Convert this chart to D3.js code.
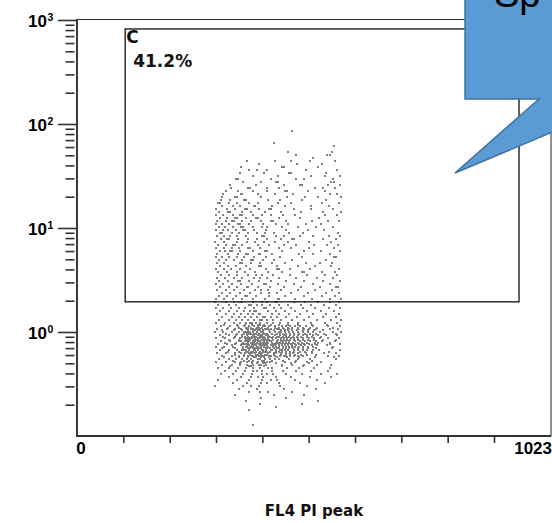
<!DOCTYPE html>
<html><head><meta charset="utf-8">
<script src="https://cdn.jsdelivr.net/npm/d3@7"></script>
<style>html,body{margin:0;padding:0;background:#fff;overflow:hidden}svg{display:block}</style>
</head><body><svg id="chart" width="552" height="523"></svg>
<script>
// ---- data ----
const xDomain = [0, 1023];
const yDomain = [0.1, 1000];
const xTickValues = [100, 200, 300, 400, 500, 600, 700, 800, 900];
const xEndLabels = ["0", "1023"];
const yMajorExponents = [0, 1, 2, 3];
const yMinorMultipliers = [2, 3, 4, 5, 6, 7, 8, 9];
const gateX = [104, 954];
const gateY = [1.95, 820];
const gateName = "C";
const gatePercent = "41.2%";
const axisTitle = "FL4 PI peak";
const calloutText = "Sp";
// events: [y value, [FL4 channel readings]] rows
const eventRows = [
[85.6,[465]],[65.7,[425]],[61.4,[555]],[53.8,[455,551]],[50.3,[473,540,546]],[47.1,[509]],
[44.1,[366,428,503,557,461]],[41.2,[392,474,529]],[38.6,[354,442,447,520]],
[36.1,[371,411,495,561,388]],[33.8,[351,458,462,538,404]],[31.6,[379,433,506,567,536]],
[29.6,[343,347,473,490,419,552]],[27.7,[359,430,434,549,554,398]],
[25.9,[386,481,486,541,568,331,447]],[24.2,[333,369,373,437,514,530,411,556]],
[22.7,[322,410,449,454,499,536,380,347]],[21.2,[316,353,357,391,466,545,562,427]],
[19.9,[341,345,398,453,521,570,312,492]],[18.6,[310,360,364,412,486,538,331,438]],
[17.4,[304,308,346,372,433,529,566,391,462,327]],[16.3,[313,351,381,385,448,505,543,421,336]],
[15.2,[300,340,362,366,414,418,468,553,323,392,505]],[14.2,[307,326,330,356,406,484,569,375,441,531]],
[13.3,[301,315,352,356,379,445,536,399,470,337,561,419]],[12.5,[309,342,346,387,391,437,522,323,364,482]],
[11.7,[303,334,338,376,418,422,507,566,356,451,321,398,541]],[10.9,[299,327,347,351,402,456,527,372,313,430,494]],
[10.2,[306,354,358,380,442,515,552,320,336,410,476,400]],[9.57,[300,325,359,363,408,498,534,343,382,450,315]],
[8.95,[308,312,349,388,426,487,563,334,370,457,405]],[8.38,[317,345,399,403,447,509,543,302,365,429,567,481,330]],
[7.84,[324,328,370,411,465,469,530,348,389,311,558,440]],[7.33,[298,346,366,404,455,549,317,384,427,500]],
[6.86,[305,337,341,391,414,472,539,356,322,446,512,564]],[6.42,[318,349,370,374,435,500,555,301,395,461,335]],
[6.01,[309,330,334,379,405,409,489,568,352,443,526,320]],[5.62,[303,347,364,392,396,479,546,325,421,510,370]],
[5.26,[313,329,360,383,438,554,558,299,407,345,485]],[4.92,[306,339,375,379,426,537,356,322,465,401]],
[4.61,[317,352,356,394,449,524,302,375,420,495,551]],[4.31,[308,343,365,393,397,476,548,326,432,513]],
[4.04,[300,332,374,431,435,503,566,352,407,460,318]],[3.78,[323,345,385,412,486,490,557,305,362,442,529]],
[3.53,[311,346,369,400,424,459,536,329,386,497,562]],[3.31,[302,338,357,381,410,473,518,320,437,553,395]],
[3.09,[307,348,352,393,419,452,532,326,372,490,568]],[2.89,[300,334,377,403,407,468,547,316,355,434,509]],
[2.71,[327,345,366,370,416,483,560,564,309,391,446,525]],[2.53,[303,339,360,384,413,477,551,321,441,514,398]],
[2.37,[312,352,374,398,431,499,566,331,461,538,415]],[2.22,[306,343,363,367,414,489,557,324,387,448,529]],
[2.08,[301,336,356,379,433,437,508,570,318,405,471,546]],
[1.94,[298,338,352,356,379,411,427,431,468,521,547,566,321,400,493]],
[1.82,[305,344,371,375,399,436,455,506,534,559,327,417,483,389]],
[1.70,[300,333,349,362,404,408,440,488,543,568,316,382,462,514,425]],
[1.59,[309,346,373,383,387,412,448,497,527,554,329,360,429,470]],
[1.49,[302,339,368,392,396,420,457,509,565,322,354,380,437,481,538]],
[1.39,[313,350,376,401,405,432,474,532,558,334,363,388,451,501,418]],
[1.30,[306,344,370,382,395,399,423,463,519,570,327,357,441,489,549,410]],
[1.22,[300,338,364,374,378,396,409,438,478,535,561,319,352,386,422,456,505]],
[1.18,[318,362,377,390,394,419,455,507,345,436,478,540,404]],
[1.14,[310,347,371,381,402,406,427,460,510,567,331,360,391,414,443,482,541,452,471,495]],
[1.10,[326,364,376,388,392,413,444,487,552,349,400,427,463,519,370,436,455,478,503]],
[1.07,[303,341,366,376,380,396,418,431,465,516,563,323,355,386,406,447,489,547,410,437,458,476,501]],
[1.035,[312,356,369,380,384,402,426,456,499,339,391,414,440,475,530,395,448,464,487,512]],
[1.00,[298,334,361,370,374,388,397,401,416,441,476,524,569,316,349,379,428,457,498,553,365,436,449,467,487,509]],
[0.967,[322,361,372,376,392,401,405,421,445,479,534,346,382,411,432,460,503,559,387,366,439,452,469,491,516]],
[0.936,[308,344,367,379,391,399,408,412,427,452,487,537,327,357,383,439,468,510,561,395,446,460,477,497,521]],
[0.905,[315,356,368,378,382,396,404,413,417,432,458,497,340,387,422,444,475,526,363,400,437,451,466,484,508]],
[0.876,[301,338,362,370,374,384,391,402,413,421,441,469,512,566,320,352,377,405,430,454,488,541,394,366,447,461,478,500,525]],
[0.847,[328,364,374,383,387,399,407,411,424,446,477,531,350,391,415,434,460,499,560,369,403,441,453,469,488,512]],
[0.819,[311,331,349,353,366,379,383,391,403,409,416,431,440,458,482,503,556,362,385,394,419,372,445,529,450,470,491,515]],
[0.792,[319,359,370,379,383,396,404,408,420,429,451,486,546,343,388,412,439,466,513,375,400,434,445,458,476,497,521]],
[0.767,[304,341,356,369,381,384,393,405,411,425,443,455,489,545,568,324,378,396,402,429,360,364,470,514,437,449,462,480,500]],
[0.742,[334,367,377,381,394,402,406,418,427,449,483,539,354,386,410,437,464,508,372,398,422,443,456,473,491,519]],
[0.717,[299,336,359,367,373,391,397,409,422,430,450,463,499,552,318,376,380,388,412,364,444,479,403,437,457,470,488,510]],
[0.694,[313,358,370,380,384,398,407,411,426,450,487,551,340,389,416,437,466,515,374,393,431,444,458,476,498]],
[0.671,[309,345,356,365,384,390,402,408,421,429,449,478,522,567,329,381,399,418,360,371,438,497,443,456,469,487,509]],
[0.649,[326,365,376,380,396,406,410,429,460,508,350,386,417,443,481,543,370,401,436,451,469,493]],
[0.628,[302,340,363,371,378,392,399,413,430,440,466,507,560,322,375,396,425,353,385,452,534,459,476,495]],
[0.607,[341,374,386,390,411,425,460,516,360,398,441,484,405,450,471,497]],
[0.588,[314,349,360,377,393,401,418,428,452,488,541,334,380,414,369,439,468,565,446,460,478]],
[0.569,[318,368,383,387,414,432,479,554,349,398,453,513,404]],
[0.550,[306,344,367,376,395,405,428,458,503,558,327,390,435,357,416,478]],
[0.532,[337,380,399,403,444,507,361,420,472,371]],
[0.515,[300,340,367,378,403,417,449,470,526,321,409,355,390,496]],
[0.498,[352,377,402,406,461,500,429,388]],
[0.482,[312,352,366,393,408,442,463,519,334,398,379,489,549]],
[0.466,[330,371,404,442,488,375]],
[0.450,[305,348,379,395,412,453,480,546,328,420,364,512]],
[0.422,[320,362,380,399,420,444,472,505,541,343,388]],
[0.395,[311,358,378,400,424,452,486,527,562,337,411]],
[0.369,[329,376,401,429,462,503,548,353,390]],
[0.346,[304,345,372,399,431,470,519,419]],
[0.323,[337,366,397,435,481,536,410]],
[0.303,[298,359,392,438,497,375]],
[0.283,[349,388,446,516]],
[0.265,[371,412,463,394]],
[0.248,[340,425,489]],
[0.232,[397,451]],
[0.217,[364,520]],
[0.203,[396,485]],
[0.190,[429]],
[0.178,[372]],
[0.128,[380]]
];

// ---- drawing ----
const svg = d3.select("#chart");
const L = 77, R = 551, T = 20, B = 436;
const x = d3.scaleLinear().domain(xDomain).range([L, R]);
const y = d3.scaleLog().domain(yDomain).range([B, T]);
const ink = "#333";
const numFont = "'Liberation Sans', Arial, sans-serif";
const boldFont = "'DejaVu Sans', Verdana, sans-serif";

// events
const events = eventRows.flatMap(([v, chs]) => chs.map(c => [c, v]));
svg.append("g").attr("shape-rendering", "crispEdges")
  .selectAll("rect").data(events).join("rect")
  .attr("x", d => Math.round(x(d[0])) - 1)
  .attr("y", d => Math.round(y(d[1])) - 1)
  .attr("width", 2).attr("height", 2)
  .attr("fill", "#7f7f7f");

// frame
svg.append("rect").attr("x", L).attr("y", T - 0.5).attr("width", R - L).attr("height", B - T + 0.5)
  .attr("fill", "none").attr("stroke", ink).attr("stroke-width", 1.1);
svg.append("line").attr("x1", L).attr("x2", L).attr("y1", T - 1).attr("y2", B + 1)
  .attr("stroke", ink).attr("stroke-width", 1.8);
svg.append("line").attr("x1", L - 1).attr("x2", R).attr("y1", B).attr("y2", B)
  .attr("stroke", ink).attr("stroke-width", 1.8);

// y axis major ticks
const majorVals = yMajorExponents.map(e => Math.pow(10, e));
const yMajor = svg.append("g").attr("transform", `translate(${L},0)`)
  .call(d3.axisLeft(y).tickValues(majorVals).tickSize(19).tickFormat(""));
yMajor.select(".domain").remove();
yMajor.selectAll("line").attr("stroke", ink).attr("stroke-width", 1.6);

// y axis minor ticks
const minorVals = [];
[-1, 0, 1, 2].forEach(e => yMinorMultipliers.forEach(m => minorVals.push(m * Math.pow(10, e))));
const yMinor = svg.append("g").attr("transform", `translate(${L - 2.5},0)`)
  .call(d3.axisLeft(y).tickValues(minorVals).tickSize(9).tickFormat(""));
yMinor.select(".domain").remove();
yMinor.selectAll("line").attr("stroke", ink).attr("stroke-width", 1.6);

// y labels 10^e
const yl = svg.append("g").attr("font-family", numFont).attr("font-weight", "bold").attr("fill", "#000");
yMajorExponents.forEach(e => {
  const py = y(Math.pow(10, e));
  yl.append("text").attr("x", 47).attr("y", py + 6.5).attr("text-anchor", "end")
    .attr("font-size", 17).text("10");
  yl.append("text").attr("x", 47.5).attr("y", py + 0.5).attr("text-anchor", "start")
    .attr("font-size", 10.5).text(e);
});

// x axis ticks
const xAx = svg.append("g").attr("transform", `translate(0,${B})`)
  .call(d3.axisBottom(x).tickValues(xTickValues).tickSize(7).tickFormat(""));
xAx.select(".domain").remove();
xAx.selectAll("line").attr("stroke", ink).attr("stroke-width", 1.6);

// x end labels
svg.append("text").attr("x", x(xDomain[0]) + 4).attr("y", 454).attr("text-anchor", "middle")
  .attr("font-family", numFont).attr("font-weight", "bold").attr("font-size", 17).text(xEndLabels[0]);
svg.append("text").attr("x", 552).attr("y", 454).attr("text-anchor", "end")
  .attr("font-family", numFont).attr("font-weight", "bold").attr("font-size", 17).text(xEndLabels[1]);

// axis title
svg.append("text").attr("x", 314).attr("y", 516).attr("text-anchor", "middle")
  .attr("font-family", boldFont).attr("font-weight", "bold").attr("font-size", 15).attr("fill", "#111")
  .text(axisTitle);

// gate
svg.append("rect").attr("x", x(gateX[0])).attr("y", y(gateY[1]))
  .attr("width", x(gateX[1]) - x(gateX[0])).attr("height", y(gateY[0]) - y(gateY[1]))
  .attr("fill", "none").attr("stroke", "#111").attr("stroke-width", 1.3);
svg.append("text").attr("x", x(gateX[0]) + 1).attr("y", 43)
  .attr("font-family", boldFont).attr("font-weight", "bold").attr("font-size", 17).attr("fill", "#111")
  .text(gateName);
svg.append("text").attr("x", x(gateX[0]) + 8).attr("y", 67)
  .attr("font-family", boldFont).attr("font-weight", "bold").attr("font-size", 17).attr("fill", "#111")
  .text(gatePercent);

// callout
const callout = [[465,-5],[650,-5],[650,99],[631,99],[455,173],[539,99],[465,99]];
svg.append("polygon").attr("points", callout.map(p => p.join(",")).join(" "))
  .attr("fill", "#5b9bd5").attr("stroke", "#41719c").attr("stroke-width", 1.5);
svg.append("text").attr("x", 494).attr("y", 7)
  .attr("font-family", numFont).attr("font-size", 38).attr("fill", "#000")
  .text(calloutText);
</script>
</body></html>
